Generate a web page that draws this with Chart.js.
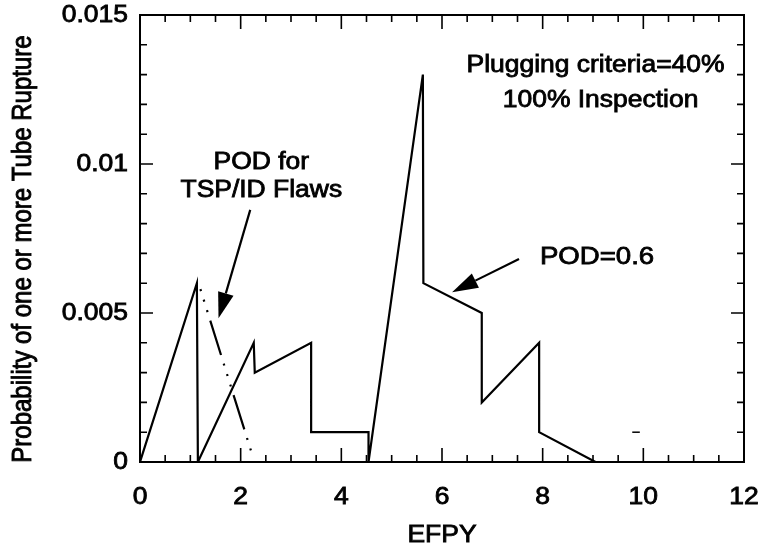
<!DOCTYPE html>
<html>
<head>
<meta charset="utf-8">
<script src="https://cdn.jsdelivr.net/npm/chart.js@4.4.0/dist/chart.umd.min.js"></script>
<style>
  html, body { margin: 0; padding: 0; background: #fff; }
  #wrap { width: 758px; height: 551px; }
</style>
</head>
<body>
<div id="wrap"><canvas id="rupture"></canvas></div>
<script>
// tube rupture probability vs EFPY, POD = 0.6
const efpy = [0, 1.13, 1.15, 2.26, 2.28, 3.4, 3.4, 4.54, 4.54, 5.62, 5.63, 6.79, 6.79, 7.93, 7.93, 9.05];
const prob = [0, 0.006, 0, 0.004, 0.003, 0.004, 0.001, 0.001, 0, 0.013, 0.006, 0.005, 0.002, 0.004, 0.001, 0];

// POD for TSP/ID flaws (dash-dot)
const tspX = [1.2, 2.21];
const tspY = [0.0058, 0.00035];

// stray short dash near the axis
const dashX = [9.78, 9.93];
const dashY = [0.001, 0.001];

const xTicks = [0, 2, 4, 6, 8, 10, 12];
const xTickLabels = ['0', '2', '4', '6', '8', '10', '12'];
const yTicks = [0, 0.005, 0.01, 0.015];
const yTickLabels = ['0', '0.005', '0.01', '0.015'];

const FONT_FAMILY = '"Liberation Sans", Arial, sans-serif';
const FONT_SIZE = 23;
const SX = 1.15; // lettering is a bit wide

const pts = (xs, ys) => xs.map((x, i) => ({ x, y: ys[i] }));

// text and arrows placed in data units
const notes = [
  { text: 'POD for', x: 2.41, y: 0.01003 },
  { text: 'TSP/ID Flaws', x: 2.41, y: 0.00909 },
  { text: 'POD=0.6', x: 9.08, y: 0.00685, size: 24 },
  { text: 'Plugging criteria=40%', x: 9.05, y: 0.01329 },
  { text: '100% Inspection', x: 9.15, y: 0.01211 }
];
const arrows = [
  { from: [2.19, 0.00846], to: [1.56, 0.00482] },
  { from: [7.53, 0.00681], to: [6.2, 0.0057] }
];

function wideText(ctx, text, px, py, align, rot) {
  ctx.save();
  ctx.translate(px, py);
  if (rot) {
    ctx.rotate(-Math.PI / 2);
    ctx.scale(1, SX);
  } else {
    ctx.scale(SX, 1);
  }
  ctx.textAlign = align;
  ctx.textBaseline = 'middle';
  ctx.fillText(text, 0, 0);
  ctx.strokeText(text, 0, 0);
  ctx.restore();
}

const frameAndTicks = {
  id: 'frameAndTicks',
  afterDatasetsDraw(chart) {
    const { ctx, chartArea: a, scales: { x, y } } = chart;
    ctx.save();
    ctx.strokeStyle = '#000';
    ctx.lineWidth = 2;
    ctx.strokeRect(a.left, a.top, a.right - a.left, a.bottom - a.top);

    ctx.lineWidth = 1.6;
    ctx.beginPath();
    for (let v = 0; v <= 12.001; v += 0.5) {
      const px = x.getPixelForValue(v);
      const len = Math.abs(v % 2) < 0.01 ? 14 : 7;
      ctx.moveTo(px, a.bottom); ctx.lineTo(px, a.bottom - len);
      ctx.moveTo(px, a.top); ctx.lineTo(px, a.top + len);
    }
    for (let i = 0; i <= 15; i++) {
      const py = y.getPixelForValue(i * 0.001);
      const len = i % 5 === 0 ? 13 : 7;
      ctx.moveTo(a.left, py); ctx.lineTo(a.left + len, py);
      ctx.moveTo(a.right, py); ctx.lineTo(a.right - len, py);
    }
    ctx.stroke();

    ctx.fillStyle = '#000';
    ctx.lineWidth = 0.8;
    ctx.font = `${FONT_SIZE}px ${FONT_FAMILY}`;

    // tick labels
    xTicks.forEach((v, i) => wideText(ctx, xTickLabels[i], x.getPixelForValue(v), a.bottom + 36, 'center'));
    yTicks.forEach((v, i) => wideText(ctx, yTickLabels[i], a.left - 12, y.getPixelForValue(v) + 1, 'right'));

    // axis titles
    wideText(ctx, 'EFPY', (a.left + a.right) / 2, a.bottom + 74, 'center');
    ctx.font = `24px ${FONT_FAMILY}`;
    wideText(ctx, 'Probability of one or more Tube Rupture', 23, 249, 'center', true);

    // annotation text
    notes.forEach(n => {
      ctx.font = `${n.size || FONT_SIZE}px ${FONT_FAMILY}`;
      wideText(ctx, n.text, x.getPixelForValue(n.x), y.getPixelForValue(n.y), 'center');
    });

    // arrows with filled heads
    arrows.forEach(ar => {
      const x0 = x.getPixelForValue(ar.from[0]), y0 = y.getPixelForValue(ar.from[1]);
      const x1 = x.getPixelForValue(ar.to[0]), y1 = y.getPixelForValue(ar.to[1]);
      const ang = Math.atan2(y1 - y0, x1 - x0);
      const hl = 26, hw = 8;
      const bx = x1 - hl * Math.cos(ang), by = y1 - hl * Math.sin(ang);
      ctx.lineWidth = 2.2;
      ctx.beginPath();
      ctx.moveTo(x0, y0); ctx.lineTo(bx, by);
      ctx.stroke();
      ctx.beginPath();
      ctx.moveTo(x1, y1);
      ctx.lineTo(bx + hw * Math.sin(ang), by - hw * Math.cos(ang));
      ctx.lineTo(bx - hw * Math.sin(ang), by + hw * Math.cos(ang));
      ctx.closePath();
      ctx.fill();
    });
    ctx.restore();
  }
};

new Chart(document.getElementById('rupture'), {
  type: 'line',
  data: {
    datasets: [
      {
        data: pts(efpy, prob),
        borderColor: '#000', borderWidth: 2.2,
        pointRadius: 0, tension: 0, fill: false
      },
      {
        data: pts(tspX, tspY),
        borderColor: '#000', borderWidth: 2.2,
        borderDash: [2, 9, 2, 9, 2, 9, 36, 9],
        pointRadius: 0, tension: 0, fill: false
      },
      {
        data: pts(dashX, dashY),
        borderColor: '#000', borderWidth: 1.5,
        pointRadius: 0, tension: 0, fill: false
      }
    ]
  },
  options: {
    responsive: true,
    maintainAspectRatio: false,
    animation: false,
    layout: { padding: { top: 15, right: 14, left: 0, bottom: 0 } },
    plugins: { legend: { display: false }, tooltip: { enabled: false } },
    scales: {
      x: {
        type: 'linear', min: 0, max: 12,
        afterBuildTicks: s => { s.ticks = xTicks.map(v => ({ value: v })); },
        afterFit: s => { s.height = 89; s.paddingLeft = 0; s.paddingRight = 0; },
        grid: { display: false, drawTicks: false },
        border: { display: false },
        ticks: { display: false }
      },
      y: {
        type: 'linear', min: 0, max: 0.015,
        afterBuildTicks: s => { s.ticks = yTicks.map(v => ({ value: v })); },
        afterFit: s => { s.width = 140; s.paddingTop = 0; s.paddingBottom = 0; },
        grid: { display: false, drawTicks: false },
        border: { display: false },
        ticks: { display: false }
      }
    }
  },
  plugins: [frameAndTicks]
});
</script>
</body>
</html>
